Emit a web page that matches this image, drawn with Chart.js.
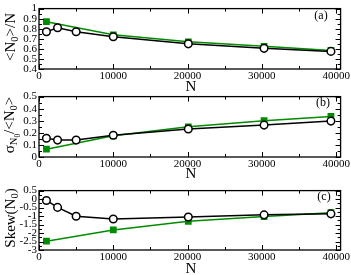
<!DOCTYPE html>
<html>
<head>
<meta charset="utf-8">
<script src="https://cdn.jsdelivr.net/npm/chart.js@4"></script>
<style>
  body { margin: 0; background: #fff; width: 351px; height: 275px; position: relative; overflow: hidden;
         font-family: "Liberation Serif", "DejaVu Serif", serif; color: #000; }
  .panel { position: absolute; left: 0; width: 351px; }
  .ytitle { position: absolute; transform: translate(-50%, -50%) rotate(-90deg); white-space: nowrap; font-size: 15px; line-height: 1; }
  .xtitle { position: absolute; transform: translate(-50%, -50%); font-size: 15px; line-height: 1; }
  .tag { position: absolute; transform: translate(-50%, -50%); font-size: 12px; line-height: 1; }
  sub { font-size: 70%; vertical-align: -0.3em; line-height: 0; }
</style>
</head>
<body>
<div class="panel" style="top:0;height:92px"><canvas id="chartA"></canvas></div>
<div class="panel" style="top:88px;height:92px"><canvas id="chartB"></canvas></div>
<div class="panel" style="top:182px;height:91px"><canvas id="chartC"></canvas></div>

<div class="ytitle" style="left:10px;top:37px">&lt;N<sub>0</sub>&gt;/N</div>
<div class="ytitle" style="left:10px;top:125px">σ<sub>N<sub>0</sub></sub>/&lt;N<sub>0</sub>&gt;</div>
<div class="ytitle" style="left:10px;top:218px">Skew(N<sub>0</sub>)</div>
<div class="xtitle" style="left:191px;top:86px">N</div>
<div class="xtitle" style="left:191px;top:173px">N</div>
<div class="xtitle" style="left:191px;top:268px">N</div>
<div class="tag" style="left:321px;top:15px">(a)</div>
<div class="tag" style="left:323px;top:102px">(b)</div>
<div class="tag" style="left:324px;top:196px">(c)</div>

<script>
// x tick labels shared by all panels
const xTicks = [0, 10000, 20000, 30000, 40000];

// system sizes (x values) for the two series
const nOpen = [1000, 2500, 5000, 10000, 20100, 30300, 39300];
const nSquare = [1000, 10000, 20100, 30300, 39300];

// panel (a) <N0>/N
const fracOpen = [0.77, 0.81, 0.77, 0.72, 0.65, 0.605, 0.575];
const fracSquare = [0.87, 0.74, 0.67, 0.625, 0.585];

// panel (b) sigma/<N0>
const sigmaOpen = [0.155, 0.14, 0.14, 0.18, 0.232, 0.264, 0.297];
const sigmaSquare = [0.065, 0.175, 0.25, 0.30, 0.336];

// panel (c) skewness
const skewOpen = [-0.08, -0.49, -1.01, -1.17, -1.06, -0.93, -0.87];
const skewSquare = [-2.48, -1.82, -1.31, -1.03, -0.8];

const green = "rgb(0,140,0)";
const tickFont = { family: "Liberation Serif", size: 11 };

// frame + inward tick marks (xmgrace style)
const frameTicks = {
  id: "frameTicks",
  afterDraw(chart, args, opts) {
    const ctx = chart.ctx;
    const a = chart.chartArea;
    const sx = chart.scales.x, sy = chart.scales.y;
    ctx.save();
    ctx.strokeStyle = "#000";
    ctx.lineWidth = 1;
    for (let v = sx.min; v <= sx.max + 1e-9; v += opts.xMinor) {
      const px = Math.round(sx.getPixelForValue(v)) + 0.5;
      const major = Math.abs(v / opts.xMajor - Math.round(v / opts.xMajor)) < 1e-6;
      const len = major ? 5 : 3;
      ctx.beginPath();
      ctx.moveTo(px, a.bottom); ctx.lineTo(px, a.bottom - len);
      ctx.moveTo(px, a.top); ctx.lineTo(px, a.top + len);
      ctx.stroke();
    }
    for (let v = sy.min; v <= sy.max + 1e-9; v += opts.yMinor) {
      const py = Math.round(sy.getPixelForValue(v)) + 0.5;
      const k = (v - sy.min) / opts.yMajor;
      const major = Math.abs(k - Math.round(k)) < 1e-6;
      const len = major ? 5 : 3;
      ctx.beginPath();
      ctx.moveTo(a.left, py); ctx.lineTo(a.left + len, py);
      ctx.moveTo(a.right, py); ctx.lineTo(a.right - len, py);
      ctx.stroke();
    }
    ctx.lineWidth = 1.3;
    ctx.strokeRect(a.left, a.top, a.right - a.left, a.bottom - a.top);
    ctx.restore();
  }
};

function pairs(xs, ys) {
  return xs.map((x, i) => ({ x: x, y: ys[i] }));
}

function makePanel(id, openY, squareY, yMin, yMax, yStep, yMinor) {
  new Chart(document.getElementById(id), {
    type: "line",
    data: {
      datasets: [
        {
          data: pairs(nOpen, openY),
          borderColor: "#000",
          borderWidth: 1.5,
          pointRadius: 3.8,
          pointBorderWidth: 1.5,
          pointBorderColor: "#000",
          pointBackgroundColor: "#fff",
          order: 0,
        },
        {
          data: pairs(nSquare, squareY),
          borderColor: green,
          borderWidth: 1.5,
          pointStyle: "rect",
          pointRadius: 4.8,
          pointBorderWidth: 0,
          pointBackgroundColor: green,
          order: 1,
        },
      ],
    },
    options: {
      responsive: true,
      maintainAspectRatio: false,
      animation: false,
      layout: { padding: { left: 0, right: 8, top: 5, bottom: 0 } },
      scales: {
        x: {
          type: "linear",
          min: 0,
          max: 40600,
          grid: { display: false, drawTicks: false },
          border: { display: false },
          ticks: {
            padding: 1,
            color: "#000",
            font: tickFont,
            maxRotation: 0,
            autoSkip: false,
            callback: (v) => String(v),
          },
          afterBuildTicks: (s) => { s.ticks = xTicks.map((v) => ({ value: v })); },
          afterFit: (s) => { s.height = 23; },
        },
        y: {
          min: yMin,
          max: yMax,
          grid: { display: false, drawTicks: false },
          border: { display: false },
          ticks: {
            stepSize: yStep,
            autoSkip: false,
            padding: 2,
            color: "#000",
            font: tickFont,
            callback: (v) => String(+v.toFixed(2)),
          },
          afterFit: (s) => { s.width = 39; },
        },
      },
      plugins: {
        legend: { display: false },
        tooltip: { enabled: false },
        frameTicks: { xMajor: 10000, xMinor: 5000, yMajor: yStep, yMinor: yMinor },
      },
    },
    plugins: [frameTicks],
  });
}

makePanel("chartA", fracOpen, fracSquare, 0.4, 1, 0.1, 0.05);
makePanel("chartB", sigmaOpen, sigmaSquare, 0, 0.5, 0.1, 0.05);
makePanel("chartC", skewOpen, skewSquare, -3, 0.5, 0.5, 0.25);
</script>
</body>
</html>
